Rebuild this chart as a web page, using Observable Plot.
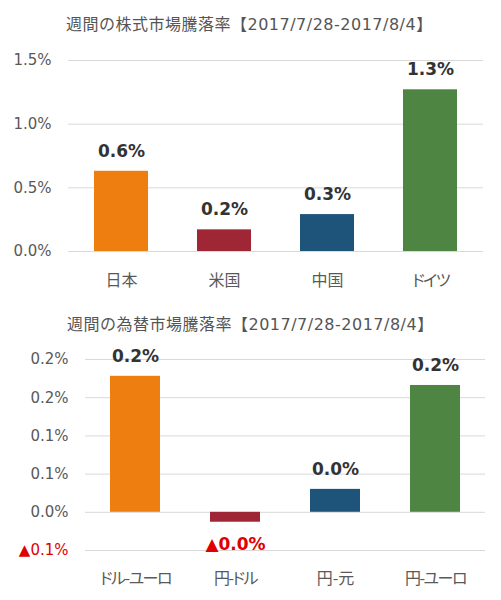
<!DOCTYPE html>
<html>
<head>
<meta charset="utf-8">
<script src="https://cdn.jsdelivr.net/npm/d3@7"></script>
<script src="https://cdn.jsdelivr.net/npm/@observablehq/plot@0.6"></script>
<style>
  body { margin: 0; background: #fff; width: 501px; }
  .title { height: 40px; box-sizing: border-box; padding-top: 15px; line-height: 20px; font-size: 16px; letter-spacing: 0.5px; color: #555; font-family: "DejaVu Sans", "Noto Sans CJK JP", sans-serif; white-space: nowrap; }
  #t1 { padding-left: 66px; }
  #t2 { padding-left: 67px; }
  svg { display: block; }
</style>
</head>
<body>
<div id="t1" class="title">週間の株式市場騰落率【2017/7/28-2017/8/4】</div>
<div id="c1"></div>
<div id="t2" class="title">週間の為替市場騰落率【2017/7/28-2017/8/4】</div>
<div id="c2"></div>
<script>
// Stock markets weekly change (%)
const stockCategories = ["日本", "米国", "中国", "ドイツ"];
const stockValues = [0.63, 0.17, 0.29, 1.27];
const stockTicks = [0, 0.5, 1.0, 1.5];
const stockTickLabels = ["0.0%", "0.5%", "1.0%", "1.5%"];

// FX markets weekly change (%)
const fxCategories = ["ドル-ユーロ", "円-ドル", "円-元", "円-ユーロ"];
const fxValues = [0.178, -0.013, 0.03, 0.166];
const fxTicks = [-0.05, 0, 0.05, 0.10, 0.15, 0.20];
const fxTickLabels = ["▲0.1%", "0.0%", "0.1%", "0.1%", "0.2%", "0.2%"];

const colors = ["#EE7E0F", "#9F2635", "#1E5479", "#4E8542"];
const FONT = "'DejaVu Sans', Verdana, sans-serif";
const CJK = "'Noto Sans CJK JP', sans-serif";

function fmtValue(v) {
  const s = Math.abs(v).toFixed(1) + "%";
  return v < 0 ? "▲" + s : s;
}

function makeChart(cats, vals, ticks, tickLabels, domain, opts) {
  const data = cats.map((c, i) => ({cat: c, value: vals[i], color: colors[i], label: fmtValue(vals[i])}));
  const pos = data.filter(d => d.value >= 0);
  const neg = data.filter(d => d.value < 0);
  const tickData = ticks.map((t, i) => ({t, label: tickLabels[i]}));
  const svg = Plot.plot({
    width: 501,
    height: 260,
    marginLeft: opts.marginLeft,
    marginRight: opts.marginRight,
    marginTop: opts.marginTop,
    marginBottom: opts.marginBottom,
    style: {background: "#fff", overflow: "visible"},
    x: {domain: cats, paddingInner: opts.padding, paddingOuter: opts.padding / 2, axis: null},
    y: {domain, axis: null},
    marks: [
      Plot.ruleY(ticks, {stroke: "#d9d9d9", strokeWidth: 1}),
      Plot.barY(data, {x: "cat", y: "value", fill: "color"}),
      Plot.text(tickData, {
        y: "t", text: "label", frameAnchor: "left", dx: -opts.tickGap,
        textAnchor: "end", fontSize: 15, fontFamily: FONT,
        fill: d => d.t < 0 ? "#E00000" : "#595959"
      }),
      Plot.text(pos, {
        x: "cat", y: "value", text: "label", dy: -20,
        fontSize: 17, fontWeight: "bold", fontFamily: FONT, fill: "#333333"
      }),
      Plot.text(neg, {
        x: "cat", y: "value", text: "label", dy: 22,
        fontSize: 17, fontWeight: "bold", fontFamily: FONT, fill: "#E00000"
      }),
      Plot.text(data, {
        x: "cat", text: "cat", frameAnchor: "bottom", dy: opts.catDy,
        fontSize: 16, fontFamily: CJK, fill: "#595959"
      })
    ]
  });
  // proportional kana spacing for category labels
  svg.querySelectorAll("text").forEach(t => {
    if (cats.includes(t.textContent)) {
      t.style.fontFeatureSettings = '"palt" 1';
      if (/[ァ-ヶー]/.test(t.textContent)) t.style.letterSpacing = "-1.5px";
    }
  });
  return svg;
}

document.getElementById("c1").append(makeChart(
  stockCategories, stockValues, stockTicks, stockTickLabels, [0, 1.5],
  {marginLeft: 68, marginRight: 18, marginTop: 20, marginBottom: 49, padding: 0.48, tickGap: 17, catDy: 34}
));
document.getElementById("c2").append(makeChart(
  fxCategories, fxValues, fxTicks, fxTickLabels, [-0.05, 0.20],
  {marginLeft: 85, marginRight: 16, marginTop: 19, marginBottom: 50, padding: 0.5, tickGap: 17, catDy: 33}
));
</script>
</body>
</html>
